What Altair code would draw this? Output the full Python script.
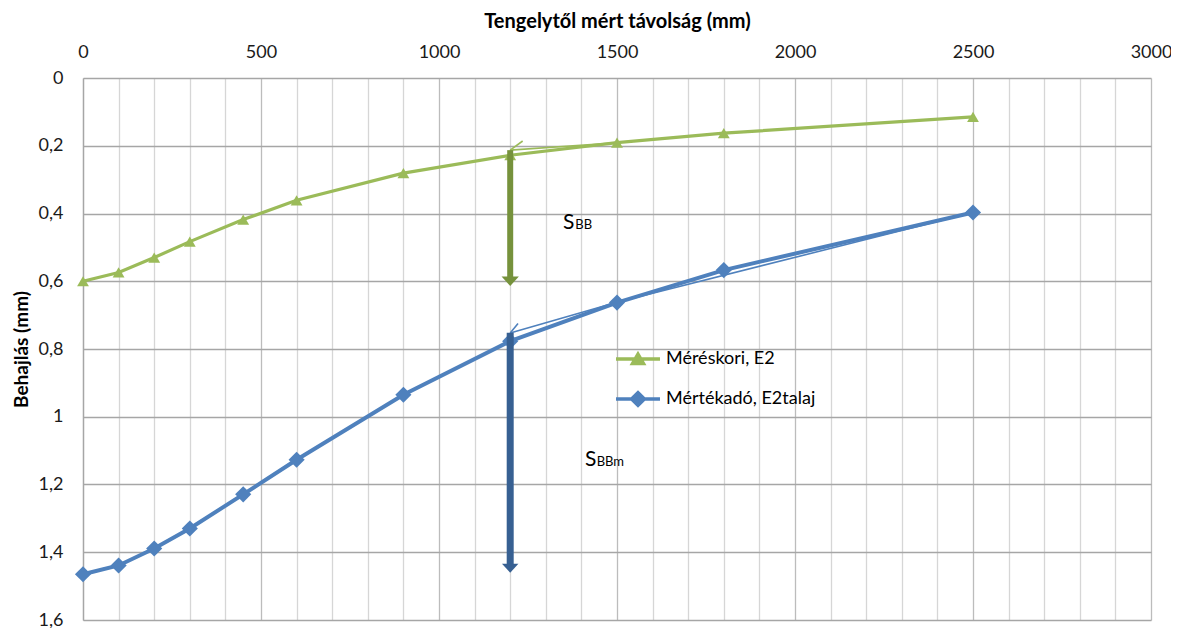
import altair as alt
import pandas as pd

# ---- data ----
dist = [0, 100, 200, 300, 450, 600, 900, 1200, 1500, 1800, 2500]
meres_e2 = [0.600, 0.574, 0.530, 0.483, 0.418, 0.361, 0.281, 0.228, 0.191, 0.163, 0.115]
mertek_e2talaj = [1.465, 1.439, 1.389, 1.330, 1.229, 1.127, 0.935, 0.777, 0.663, 0.567, 0.397]
series_names = ["Méréskori, E2", "Mértékadó, E2talaj"]
series_colors = ["#9BBB59", "#4F81BD"]
series_shapes = ["triangle-up", "diamond"]
series_marker_sizes = [140, 260]
series_line_widths = [3.2, 4.0]

# thin helper lines (as drawn in the original)
thin_seg = ["g1", "g1", "g2", "g2", "b1", "b1", "b1", "b2", "b2"]
thin_series = [series_names[0]] * 4 + [series_names[1]] * 5
thin_x = [1200, 1500, 1200, 1235, 1200, 1500, 2500, 1200, 1222]
thin_y = [0.213, 0.191, 0.213, 0.186, 0.753, 0.662, 0.397, 0.753, 0.725]

# arrows
arrow_names = ["SBB", "SBBm"]
arrow_x = [1200, 1200]
arrow_top = [0.213, 0.752]
arrow_bottom = [0.59, 1.44]
arrow_head = [0.600, 1.447]
arrow_colors = ["#76923C", "#376092"]

# annotation texts
ann_main = ["S", "S"]
ann_sub = ["BB", "BBm"]
ann_x_main = [1348, 1410]
ann_x_sub = [1383, 1443]
ann_y = [0.446, 1.145]

x_ticks = list(range(0, 3001, 100))
y_ticks = [0, 0.2, 0.4, 0.6, 0.8, 1.0, 1.2, 1.4, 1.6]

FONT = "Lato"
X_TITLE = "Tengelytől mért távolság (mm)"
Y_TITLE = "Behajlás (mm)"

df = pd.DataFrame({
    "x": dist * 2,
    "y": meres_e2 + mertek_e2talaj,
    "s": [series_names[0]] * len(dist) + [series_names[1]] * len(dist),
})
thin_df = pd.DataFrame({"x": thin_x, "y": thin_y, "seg": thin_seg, "s": thin_series})
arrows_df = pd.DataFrame({"a": arrow_names, "x": arrow_x, "y": arrow_top,
                          "y2": arrow_bottom, "yh": arrow_head})
ann_df = pd.DataFrame({"t": ann_main, "sub": ann_sub, "x": ann_x_main,
                       "xs": ann_x_sub, "y": ann_y})

x_scale = alt.Scale(domain=[0, 3000], nice=False, zero=False)
y_scale = alt.Scale(domain=[0, 1.6], reverse=True, nice=False, zero=False)

x_axis = alt.Axis(
    orient="top", values=x_ticks,
    labelExpr="datum.value % 500 === 0 ? format(datum.value, 'd') : ''",
    ticks=False, tickSize=0, domain=False, grid=True,
    gridColor={"condition": {"test": "datum.value % 500 === 0", "value": "#bcbcbc"},
               "value": "#d6d6d6"},
    gridWidth=1.3,
    labelPadding=17, labelFont=FONT, labelFontSize=18, labelColor="#1a1a1a",
    labelOverlap=False, labelFlush=False,
    title=X_TITLE, titleFont=FONT, titleFontSize=20,
    titleFontWeight="bold", titleColor="#000000", titleX=534, titleY=-51,
    titleBaseline="alphabetic", titleAlign="center",
)
y_axis = alt.Axis(
    orient="left", values=y_ticks,
    labelExpr="replace(format(datum.value, '.1~f'), '.', ',')",
    ticks=False, tickSize=0, domain=True, domainColor="#a6a6a6", domainWidth=1.3,
    grid=True, gridColor="#a6a6a6", gridWidth=1.3,
    labelPadding=20, labelFont=FONT, labelFontSize=18, labelColor="#1a1a1a",
    labelOverlap=False, labelFlush=False,
    title=Y_TITLE, titleFont=FONT, titleFontSize=19, titleFontWeight="bold",
    titleColor="#000000", titleX=-56, titleY=271, titleBaseline="alphabetic",
    titleAlign="center", titleAngle=270,
)


def X(field="x"):
    return alt.X(f"{field}:Q", scale=x_scale, axis=x_axis, title=X_TITLE)


def Y(field="y"):
    return alt.Y(f"{field}:Q", scale=y_scale, axis=y_axis, title=Y_TITLE)


line_layers, thin_layers, point_layers = [], [], []
for name, col, shp, msize, lw in zip(series_names, series_colors, series_shapes,
                                     series_marker_sizes, series_line_widths):
    line_layers.append(
        alt.Chart(df).transform_filter(alt.datum.s == name)
        .mark_line(strokeWidth=lw, color=col).encode(x=X(), y=Y())
    )
    thin_layers.append(
        alt.Chart(thin_df).transform_filter(alt.datum.s == name)
        .mark_line(strokeWidth=1.6, color=col).encode(x=X(), y=Y(), detail="seg:N")
    )
    point_layers.append(
        alt.Chart(df).transform_filter(alt.datum.s == name)
        .mark_point(shape=shp, filled=True, size=msize, opacity=1, color=col)
        .encode(x=X(), y=Y())
    )

arrow_layers = []
for name, col, w, hsize in zip(arrow_names, arrow_colors, [6, 7], [300, 270]):
    base = alt.Chart(arrows_df).transform_filter(alt.datum.a == name)
    arrow_layers.append(base.mark_rule(strokeWidth=w, color=col).encode(
        x=X(), y=Y(), y2="y2:Q"))
    arrow_layers.append(base.mark_point(
        shape="M-1,-0.55L1,-0.55L0,0.55Z", filled=True, size=hsize, opacity=1, color=col
    ).encode(x=X(), y=Y("yh")))

txt_main = alt.Chart(ann_df).mark_text(
    align="left", baseline="alphabetic", font=FONT, fontSize=21, color="#000000"
).encode(x=X(), y=Y(), text="t:N")
txt_sub = alt.Chart(ann_df).mark_text(
    align="left", baseline="alphabetic", font=FONT, fontSize=13, color="#000000"
).encode(x=X("xs"), y=Y(), text="sub:N")

leg_paths = [
    "M-1.1,0L1.1,0M0,-0.24L-0.27,0.22L0.27,0.22Z",
    "M-1.1,0L1.1,0M-0.32,0L0,-0.32L0.32,0L0,0.32Z",
]
leg = alt.Legend(
    orient="none", legendX=533, legendY=259, title=None,
    labelFont=FONT, labelFontSize=18, labelColor="#000000", labelOffset=6,
    symbolSize=1600, symbolStrokeWidth=3.5, symbolOpacity=1, rowPadding=6,
)
leg_color_scale = alt.Scale(domain=series_names, range=series_colors)
legend_layer = alt.Chart(df).mark_point(filled=True, opacity=0).encode(
    x=X(), y=Y(),
    fill=alt.Fill("s:N", scale=leg_color_scale, legend=leg),
    stroke=alt.Stroke("s:N", scale=leg_color_scale, legend=leg),
    shape=alt.Shape("s:N", scale=alt.Scale(domain=series_names, range=leg_paths),
                    legend=leg),
)

chart = alt.layer(
    *line_layers, *thin_layers, *point_layers, *arrow_layers, txt_main, txt_sub,
    legend_layer
).properties(
    width=1068, height=542,
    padding={"left": 75, "top": 70, "right": 20, "bottom": 8},
    autosize=alt.AutoSizeParams(type="none"),
    background="white",
).configure_view(stroke=None)

chart.save("out.html", embed_options={"renderer": "svg", "actions": False})
